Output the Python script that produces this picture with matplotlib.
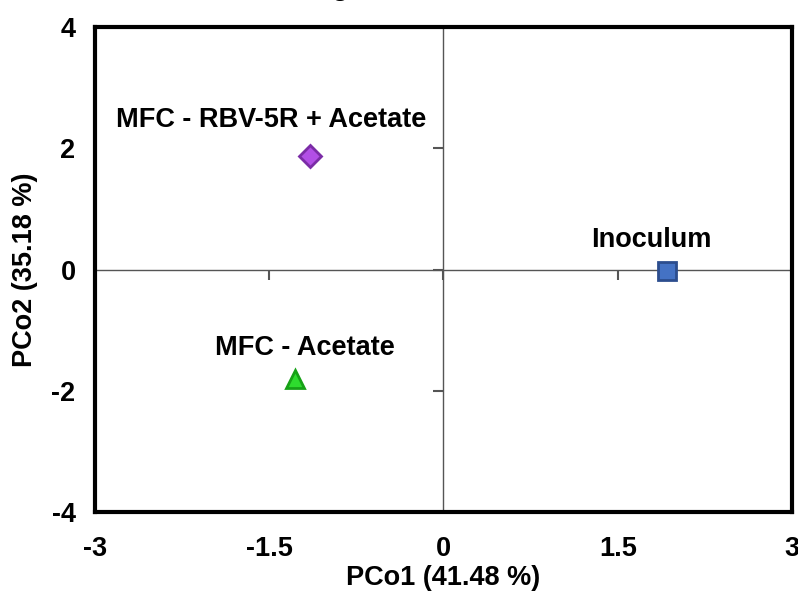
import matplotlib.pyplot as plt

plt.rcParams['font.family'] = ['Liberation Sans', 'DejaVu Sans']
plt.rcParams['font.weight'] = 'bold'
plt.rcParams['axes.unicode_minus'] = False

samples = ['MFC - RBV-5R + Acetate', 'MFC - Acetate', 'Inoculum']
pco1 = [-1.15, -1.28, 1.92]
pco2 = [1.88, -1.80, -0.02]
markers = ['D', '^', 's']
fills = ['#B24FE6', '#2EDC2E', '#4472C4']
edges = ['#7B2CA6', '#17A117', '#2C4D8E']

xticks = [-3, -1.5, 0, 1.5, 3]
yticks = [-4, -2, 0, 2, 4]

fig = plt.figure(figsize=(7.98, 5.99), dpi=100)
ax = fig.add_axes([0.119, 0.145, 0.8735, 0.81])

# cross lines through the origin with their own small ticks
ax.axhline(0, color='#555555', lw=1.0, zorder=1)
ax.axvline(0, color='#555555', lw=1.0, zorder=1)
ax.plot([0] * len(yticks), yticks, ls='none', marker=0, ms=7, mew=1.5, color='#555555', zorder=1)
ax.plot(xticks, [0] * len(xticks), ls='none', marker=3, ms=7, mew=1.5, color='#555555', zorder=1)

sizes = [11, 13, 13]
for x, y, m, fc, ec, s in zip(pco1, pco2, markers, fills, edges, sizes):
    ax.plot(x, y, marker=m, ms=s, mfc=fc, mec=ec, mew=2.0, ls='none', zorder=3)

offsets = [(-0.33, 0.59), (0.09, 0.50), (-0.13, 0.51)]
for x, y, name, (dx, dy) in zip(pco1, pco2, samples, offsets):
    ax.text(x + dx, y + dy, name, ha='center', va='center', fontsize=19.5, fontweight='bold')

ax.set_xlim(-3, 3)
ax.set_ylim(-4, 4)
ax.set_xticks(xticks)
ax.set_xticklabels(['-3', '-1.5', '0', '1.5', '3'])
ax.set_yticks(yticks)
ax.tick_params(axis='x', length=0, pad=17, labelsize=19.5)
ax.tick_params(axis='y', length=0, pad=14, labelsize=19.5)
for lab in ax.get_xticklabels() + ax.get_yticklabels():
    lab.set_fontweight('bold')
for sp in ax.spines.values():
    sp.set_linewidth(3)
    sp.set_color('black')

ax.set_xlabel('PCo1 (41.48 %)', fontsize=19.5, fontweight='bold', labelpad=2)
ax.set_ylabel('PCo2 (35.18 %)', fontsize=19.5, fontweight='bold', labelpad=10)

fig.text(0.427, 1.008, 'g', ha='center', va='baseline', fontsize=20, fontweight='bold')

fig.savefig('out.png', dpi=100)
